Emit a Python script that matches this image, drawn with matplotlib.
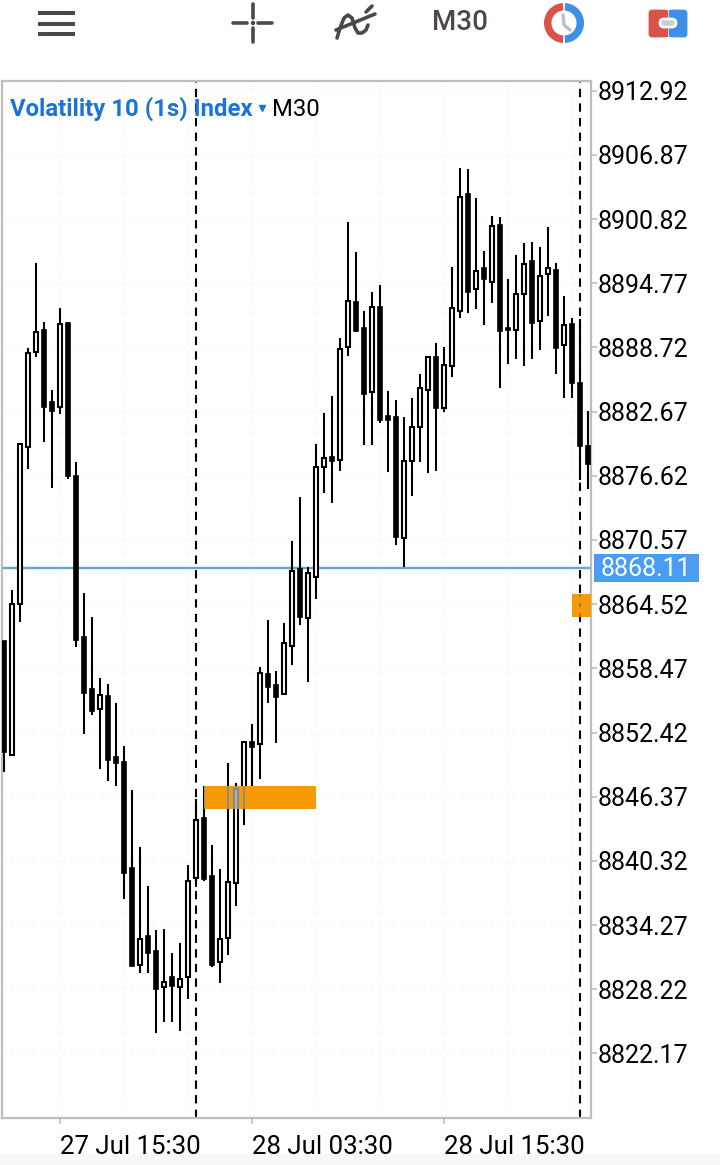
import matplotlib
matplotlib.use("Agg")
import matplotlib.pyplot as plt
from matplotlib.patches import Rectangle, Wedge, FancyBboxPatch, Circle
import numpy as np

plt.rcParams['font.family'] = ['Roboto', 'DejaVu Sans']

# candles, oldest first
highs = [8861.05, 8865.86, 8879.61, 8888.67, 8896.67, 8891.12, 8884.71, 8892.44, 8891.02, 8877.92,
         8865.57, 8863.31, 8857.56, 8856.99, 8855.21, 8851.15, 8847.01, 8841.63, 8837.96, 8833.81,
         8833.91, 8831.64, 8832.59, 8839.93, 8846.15, 8847.39, 8841.82, 8839.56, 8849.55, 8847.67,
         8851.53, 8853.23, 8858.60, 8863.03, 8858.22, 8862.74, 8870.47, 8874.62, 8868.03, 8879.61,
         8882.53, 8884.14, 8889.60, 8900.54, 8897.71, 8892.15, 8893.94, 8894.60, 8884.61, 8883.76,
         8882.16, 8883.95, 8886.21, 8887.82, 8889.13, 8888.76, 8896.30, 8905.62, 8905.53, 8902.80,
         8897.80, 8901.10, 8901.01, 8895.16, 8897.43, 8898.56, 8898.65, 8898.18, 8900.07, 8896.67,
         8893.56, 8891.49, 8891.40, 8882.72]
lows = [8848.70, 8850.31, 8862.84, 8877.26, 8887.82, 8879.80, 8875.47, 8882.44, 8876.30, 8860.48,
        8852.29, 8854.08, 8848.99, 8847.86, 8847.39, 8836.73, 8830.42, 8829.76, 8829.76, 8824.10,
        8825.14, 8825.14, 8824.29, 8827.30, 8837.86, 8838.43, 8830.32, 8828.82, 8831.45, 8836.07,
        8843.70, 8847.29, 8848.04, 8855.21, 8851.44, 8856.05, 8858.78, 8862.56, 8857.18, 8865.00,
        8875.00, 8874.06, 8877.07, 8887.91, 8890.17, 8879.52, 8879.52, 8881.59, 8876.97, 8870.09,
        8868.03, 8874.71, 8877.92, 8876.88, 8877.07, 8882.63, 8885.93, 8891.49, 8891.96, 8892.34,
        8890.83, 8892.90, 8884.89, 8887.15, 8887.63, 8886.96, 8887.63, 8888.48, 8891.68, 8886.21,
        8883.95, 8883.95, 8876.22, 8875.37]
opens = [8861.05, 8850.31, 8864.53, 8879.33, 8888.29, 8890.36, 8883.57, 8883.10, 8891.02, 8876.58,
         8861.42, 8856.52, 8854.64, 8855.87, 8850.12, 8849.65, 8839.65, 8830.51, 8833.25, 8831.83,
         8828.44, 8829.38, 8828.44, 8829.38, 8838.71, 8844.36, 8838.90, 8830.80, 8833.06, 8838.25,
         8847.01, 8851.53, 8851.34, 8857.94, 8856.90, 8856.05, 8860.58, 8867.84, 8863.21, 8867.08,
         8877.45, 8878.39, 8878.11, 8888.76, 8893.00, 8890.55, 8884.51, 8892.53, 8882.25, 8882.16,
         8870.76, 8878.01, 8881.22, 8884.71, 8887.82, 8883.01, 8886.96, 8892.15, 8903.18, 8894.22,
         8896.20, 8894.88, 8900.25, 8890.55, 8890.36, 8893.75, 8896.86, 8891.21, 8895.64, 8896.01,
         8888.95, 8890.93, 8885.36, 8879.42]
closes = [8850.59, 8864.53, 8879.61, 8888.19, 8890.17, 8883.10, 8882.72, 8890.93, 8876.58, 8861.14,
          8856.14, 8854.45, 8855.96, 8849.83, 8849.55, 8839.18, 8830.42, 8832.96, 8831.64, 8828.25,
          8828.91, 8828.53, 8829.19, 8838.43, 8844.17, 8838.62, 8830.51, 8832.96, 8838.34, 8847.10,
          8851.53, 8851.06, 8858.03, 8856.71, 8855.78, 8860.86, 8867.65, 8863.31, 8867.46, 8877.45,
          8878.30, 8878.01, 8888.57, 8893.09, 8890.26, 8884.33, 8892.53, 8881.88, 8881.88, 8870.85,
          8878.01, 8881.22, 8884.89, 8887.82, 8883.01, 8887.05, 8892.44, 8902.89, 8893.94, 8895.92,
          8895.16, 8900.16, 8890.26, 8890.36, 8893.75, 8896.58, 8891.02, 8895.45, 8896.20, 8888.67,
          8890.83, 8885.36, 8879.42, 8877.73]

price_ticks = [8912.92, 8906.87, 8900.82, 8894.77, 8888.72, 8882.67, 8876.62, 8870.57,
               8864.52, 8858.47, 8852.42, 8846.37, 8840.32, 8834.27, 8828.22, 8822.17]
time_ticks = [7, 31, 55]
time_labels = ["27 Jul 15:30", "28 Jul 03:30", "28 Jul 15:30"]
period_seps = [24, 72]
last_line = 8867.93
last_label = "8868.11"
big_zone = [25, 39, 8845.21, 8847.39]
small_zone = [71, 73.5, 8863.31, 8865.47]

text_col = "#000000"
icon_col = "#4d4845"
red = "#d9534a"
blue = "#3d8fe8"
orange = "#f79a05"

fig = plt.figure(figsize=(7.2, 11.65), dpi=100, facecolor="white")
ax = fig.add_axes([2/720, 1-1118/1165, 589/720, 1037/1165])
ax.set_xlim(-0.25, 73.375)
ax.set_ylim(8816.09, 8913.83)

x = np.arange(len(opens))
o = np.array(opens)
c = np.array(closes)
up = c >= o

ax.set_axisbelow(True)
ax.set_xticks(time_ticks)
ax.set_xticklabels(time_labels, ha="left", fontsize=18.6, color=text_col)
ax.set_xticks(range(7, 74, 8), minor=True)
ax.yaxis.tick_right()
ax.set_yticks(price_ticks)
ax.set_yticklabels(["%.2f" % p for p in price_ticks], fontsize=18, color=text_col)
ax.grid(True, which="both", color="#f7f7f7", lw=0.9, ls=(0, (3, 3)))
ax.tick_params(axis="both", which="major", color="#bdbdbd", width=1.2, length=4, pad=1)
ax.tick_params(axis="x", which="major", pad=8)
ax.tick_params(axis="x", which="minor", length=0)
for s in ax.spines.values():
    s.set_color("#bdbdbd")
    s.set_linewidth(1.6)

# line and separators sit behind the candles
ax.axhline(last_line, color="#5ea6d3", lw=1.7, zorder=1.5)
for s in period_seps:
    ax.axvline(s, color="black", lw=1.5, ls=(0, (4, 3)), zorder=1.6)

ax.vlines(x, lows, highs, color="black", lw=1.5, zorder=2)
ax.bar(x[up], (c-o)[up], bottom=o[up], width=0.5, facecolor="white", edgecolor="black", lw=1.5, zorder=3)
ax.bar(x[~up], (o-c)[~up], bottom=c[~up], width=0.55, facecolor="black", edgecolor="black", lw=1.2, zorder=3)

zone = Rectangle((big_zone[0], big_zone[2]), big_zone[1]-big_zone[0], big_zone[3]-big_zone[2],
                 facecolor=orange, edgecolor="none", zorder=6)
ax.add_patch(zone)
zone2 = Rectangle((small_zone[0], small_zone[2]), small_zone[1]-small_zone[0], small_zone[3]-small_zone[2],
                  facecolor=orange, edgecolor="none", zorder=6)
ax.add_patch(zone2)

# candles show through the zone as grey
for i in [25, 28, 29, 30]:
    ln = ax.vlines([i], [lows[i]], [highs[i]], color="#8c8c8c", lw=1.5, zorder=7)
    ln.set_clip_path(zone)
for i in [29]:
    b = ax.bar([i], [c[i]-o[i]], bottom=[o[i]], width=0.5, facecolor="#b9b4ab", edgecolor="#7d8aa0", lw=1.5, zorder=7)
    b[0].set_clip_path(zone)
ln = ax.vlines([72], [small_zone[2]], [small_zone[3]], color="#8c7a55", lw=1.44, ls=(0, (2, 3)), zorder=7)

# overlay in pixel units for the toolbar and labels
ui = fig.add_axes([0, 0, 1, 1], facecolor="none")
ui.set_xlim(0, 720)
ui.set_ylim(1165, 0)
ui.axis("off")

ui.add_patch(Rectangle((0, 1154), 720, 11, facecolor="#f8f8f8", edgecolor="none"))

for yy in [13, 23.5, 34]:
    ui.plot([38, 75], [yy, yy], color=icon_col, lw=2.9, solid_capstyle="butt")

ui.plot([233, 247], [23, 23], color=icon_col, lw=2.6, solid_capstyle="round")
ui.plot([258, 272], [23, 23], color=icon_col, lw=2.6, solid_capstyle="round")
ui.plot([253, 253], [4, 18], color=icon_col, lw=2.6, solid_capstyle="round")
ui.plot([253, 253], [28, 42], color=icon_col, lw=2.6, solid_capstyle="round")
ui.add_patch(Circle((253, 23), 1.5, color=icon_col))

ui.plot([337, 340, 344, 348, 352, 355, 358, 362, 366, 368], [38, 28, 18, 15, 18, 28, 33, 33, 30, 25],
        color=icon_col, lw=2.6, solid_capstyle="round")
ui.plot([336, 375], [30, 14], color=icon_col, lw=2.6, solid_capstyle="round")
ui.plot([366, 372], [12, 6], color=icon_col, lw=2.6, solid_capstyle="round")

ui.text(460, 23, "M30", fontsize=20, color=icon_col, ha="center", va="center", fontweight="medium")

ui.add_patch(Wedge((564, 23), 20, 93, 267, width=7.5, facecolor=red, edgecolor="none"))
ui.add_patch(Wedge((564, 23), 20, -87, 87, width=7.5, facecolor=blue, edgecolor="none"))
ui.plot([563, 564, 570], [15, 25, 30], color="#b4c2c9", lw=2.4, solid_capstyle="round")

ui.add_patch(FancyBboxPatch((650, 11), 16, 25, boxstyle="round,pad=0,rounding_size=2", facecolor=red, edgecolor=red, lw=2))
ui.add_patch(FancyBboxPatch((670, 11), 16, 25, boxstyle="round,pad=0,rounding_size=2", facecolor=blue, edgecolor=blue, lw=2))
ui.add_patch(Rectangle((662, 10), 5.5, 27, facecolor=red, edgecolor="none"))
ui.add_patch(Rectangle((668.5, 10), 5.5, 27, facecolor=blue, edgecolor="none"))
ui.add_patch(FancyBboxPatch((660, 19), 16, 8, boxstyle="round,pad=0,rounding_size=4", facecolor="#c3ced3", edgecolor="white", lw=2))

ui.text(10, 109, "Volatility 10 (1s) Index", fontsize=17.2, color="#1a73d8", fontweight="bold", ha="left", va="center")
ui.plot([262], [108], marker="v", color="#1a73d8", ms=5)
ui.text(272, 109, "M30", fontsize=17.2, color=text_col, ha="left", va="center")

ui.add_patch(Rectangle((594, 554), 105, 28, facecolor="#4a9df2", edgecolor="none"))
ui.text(601, 568.5, last_label, fontsize=18, color="white", ha="left", va="center")

fig.savefig("out.png", dpi=100)
